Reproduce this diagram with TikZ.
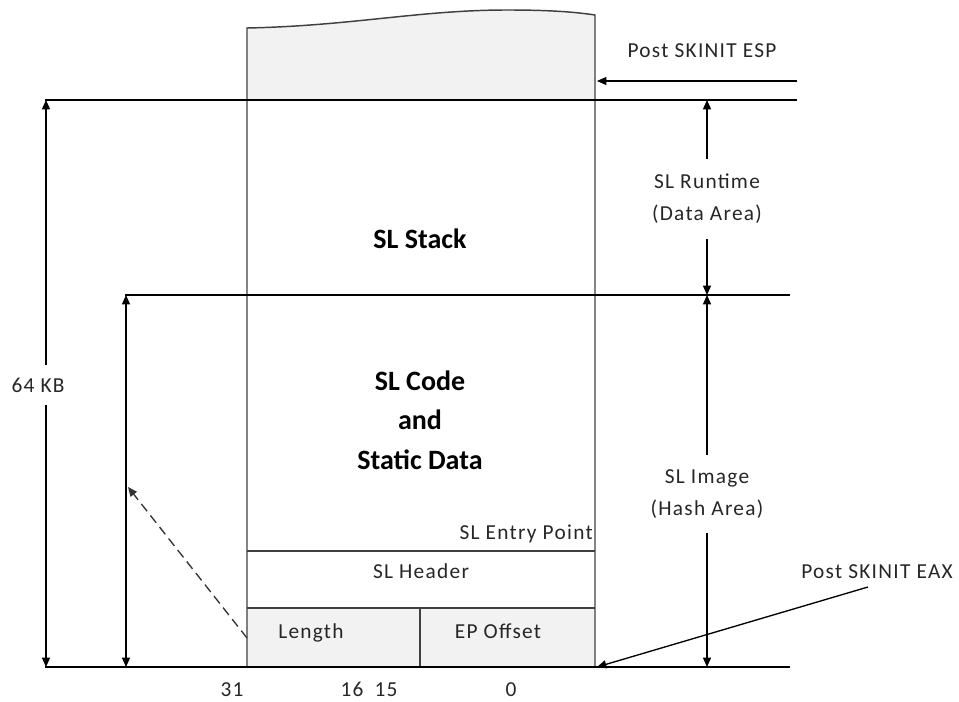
\documentclass[tikz,border=0pt]{standalone}
\usepackage{fontspec}
\setmainfont{Carlito}
\newfontfamily\lblfont{Carlito}[LetterSpace=6]
\usetikzlibrary{arrows.meta}
\definecolor{boxgray}{HTML}{F2F2F2}
\definecolor{linegray}{HTML}{404040}
\begin{document}
\begin{tikzpicture}[x=0.75pt,y=-0.75pt,
  rule/.style={draw=black,line width=1pt},
  box/.style={draw=linegray,line width=1.1pt},
  arr/.style={line width=1pt,-{Triangle[length=7pt,width=6pt]}},
  dimarr/.style={line width=1pt,{Triangle[length=7pt,width=6pt]}-{Triangle[length=7pt,width=6pt]}},
  lbl/.style={font=\lblfont\fontsize{16}{24}\selectfont,inner sep=1pt,text=black!85},
  blbl/.style={lbl,anchor=base,inner sep=0pt,text depth=0pt},
  dimlbl/.style={lbl,align=center,inner ysep=11pt},
  big/.style={font=\fontsize{21}{29.5}\selectfont\bfseries,align=center},
]
\useasboundingbox (0,0) rectangle (959,702);

% ---- fills
\fill[boxgray] (247,100) -- (247,28) .. controls (350,26) and (420,10) .. (507,10)
  .. controls (550,10) and (575,12) .. (595,15) -- (595,100) -- cycle;
\fill[boxgray] (247,608) rectangle (595,667);

% ---- main box outline
\draw[box] (247,667) -- (247,28) .. controls (350,26) and (420,10) .. (507,10)
  .. controls (550,10) and (575,12) .. (595,15) -- (595,667);
\draw[box] (247,551) -- (595,551);
\draw[box] (247,608) -- (595,608);
\draw[box] (420,608) -- (420,667);

% ---- long rules
\draw[rule] (45,100) -- (797,100);
\draw[rule] (125,295) -- (790,295);
\draw[rule] (45,667) -- (790,667);

% ---- texts in box
\node[big] (stack) at (420,239) {SL Stack};
\node[big] (code) at (420,420) {SL Code\\and\\Static Data};
\node[blbl,anchor=base east] (entry) at (593,539) {SL Entry Point};
\node[blbl] (header) at (421,578) {SL Header};
\node[blbl] (length) at (311,638) {Length};
\node[blbl] (epoff) at (498,638) {EP Offset};

% ---- bit numbers
\node[blbl] (b31) at (232,696) {31};
\node[blbl] (b16) at (352,696) {16};
\node[blbl] (b15) at (386,696) {15};
\node[blbl] (b0) at (511,696) {0};

% ---- 64 KB dimension
\coordinate (k1) at (46,100);
\coordinate (k2) at (46,667);
\node[dimlbl,inner ysep=9pt] (kb) at (38,385) {64 KB};
\draw[arr] (k1 |- kb.north) -- (k1);
\draw[arr] (k2 |- kb.south) -- (k2);

% ---- image dimension (left)
\coordinate (i1) at (126,295);
\coordinate (i2) at (126,667);
\draw[dimarr] (i1) -- (i2);

% ---- dashed pointer from header
\coordinate (d1) at (247,638);
\coordinate (d2) at (128,487);
\draw[arr,dashed,dash pattern=on 7pt off 4pt,draw=black!80] (d1) -- (d2);

% ---- right dimensions
\coordinate (r1) at (707,100);
\coordinate (r2) at (707,295);
\coordinate (r3) at (707,667);
\node[dimlbl] (rt) at (707,199) {SL Runtime\\(Data Area)};
\draw[arr] (rt.north) -- (r1);
\draw[arr] (rt.south) -- (r2);
\node[dimlbl] (img) at (707,494) {SL Image\\(Hash Area)};
\draw[arr] (img.north) -- (r2);
\draw[arr] (img.south) -- (r3);

% ---- ESP pointer
\node[blbl] (esp) at (702,58) {Post SKINIT ESP};
\coordinate (esps) at (797,81);
\coordinate (espe) at (597,81);
\draw[arr] (esps) -- (espe);

% ---- EAX pointer
\node[blbl] (eax) at (877,578) {Post SKINIT EAX};
\coordinate (eaxs) at (868,587);
\coordinate (eaxe) at (597,667);
\draw[arr] (eaxs) -- (eaxe);
\end{tikzpicture}
\end{document}
